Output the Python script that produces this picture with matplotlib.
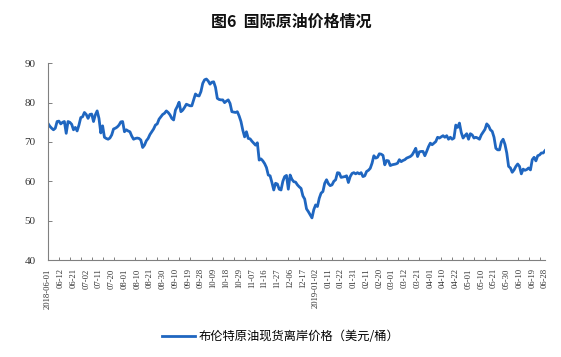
import matplotlib
matplotlib.use("Agg")
import matplotlib.pyplot as plt
import numpy as np

title = "图6  国际原油价格情况"
series_name = "布伦特原油现货离岸价格（美元/桶）"

tick_labels = ["2018-06-01", "06-12", "06-21", "07-02", "07-11", "07-20", "08-01",
               "08-10", "08-21", "08-30", "09-10", "09-19", "09-28", "10-09",
               "10-18", "10-29", "11-07", "11-16", "11-27", "12-06", "12-17",
               "2019-01-02", "01-11", "01-22", "01-31", "02-11", "02-20", "03-01",
               "03-12", "03-21", "04-01", "04-10", "04-22", "05-01", "05-10",
               "05-21", "05-30", "06-10", "06-19", "06-28"]

brent = [
    74.7, 74.0, 73.5, 73.1, 73.5, 75.2, 75.3, 74.6, 75.0, 75.2,
    72.2, 75.2, 75.0, 74.5, 73.1, 73.7, 72.8, 74.3, 76.2, 76.4,
    77.5, 77.0, 76.0, 77.0, 77.1, 75.2, 76.9, 77.9, 76.0, 72.3,
    74.1, 71.2, 70.9, 70.7, 71.0, 71.8, 73.3, 73.5, 73.8, 74.3,
    75.1, 75.2, 72.6, 73.1, 72.8, 72.6, 71.5, 70.7, 70.9, 71.0,
    70.9, 70.5, 68.6, 69.2, 70.3, 70.9, 71.9, 72.6, 73.3, 74.3,
    74.6, 75.8, 76.4, 77.0, 77.3, 77.9, 77.5, 76.9, 76.0, 75.6,
    78.1, 79.0, 80.1, 77.7, 78.1, 78.8, 79.6, 79.4, 79.2, 79.2,
    80.7, 82.2, 81.8, 81.7, 82.8, 84.9, 85.8, 86.0, 85.5, 84.7,
    85.2, 85.3, 83.9, 81.1, 80.8, 80.7, 80.7, 80.0, 80.4, 80.7,
    79.8, 77.7, 77.6, 77.5, 77.7, 76.6, 75.2, 73.0, 71.3, 72.6,
    70.9, 70.8, 70.2, 69.7, 69.2, 69.8, 65.4, 65.7, 65.2, 64.5,
    63.5, 61.6, 61.4, 59.7, 57.8, 59.5, 59.3, 58.0, 57.8, 60.0,
    61.2, 61.5, 58.0, 61.6, 60.5, 59.9, 59.8, 59.1, 58.6, 58.2,
    56.3, 55.5, 53.0, 52.3, 51.5, 50.7, 52.8, 54.0, 53.6, 55.7,
    57.0, 57.4, 59.5, 60.4, 59.4, 58.9, 59.1, 60.0, 60.4, 62.2,
    62.1, 61.0, 61.1, 61.2, 61.4, 59.7, 61.2, 62.0, 62.2, 61.9,
    62.2, 61.9, 62.2, 61.2, 61.4, 62.5, 62.8, 63.3, 64.6, 66.5,
    65.9, 66.1, 67.0, 66.9, 66.6, 64.2, 65.3, 65.2, 64.0, 64.2,
    64.3, 64.4, 64.6, 65.5, 65.0, 65.3, 65.5, 65.9, 66.1, 66.3,
    66.7, 67.5, 68.4, 66.3, 67.5, 67.6, 67.6, 66.5, 67.6, 68.8,
    69.7, 69.3, 69.7, 70.1, 71.2, 71.0, 71.3, 71.6, 71.2, 71.6,
    70.7, 71.2, 70.7, 71.0, 74.3, 73.7, 74.8, 72.4, 71.0, 71.6,
    72.1, 70.7, 72.1, 71.8, 71.0, 71.2, 71.0, 70.7, 71.8, 72.5,
    73.2, 74.6, 74.1, 73.1, 72.7, 71.2, 68.4, 68.0, 68.0, 70.0,
    70.7, 69.4, 67.2, 63.8, 63.4, 62.3, 62.9, 63.8, 64.4, 63.8,
    61.9, 63.1, 62.8, 63.0, 63.4, 62.9, 65.5, 66.1, 65.2, 66.5,
    66.7, 67.2, 67.2, 67.8,
]

label_step = 7
mark_step = 6

cjk = ["Noto Sans CJK SC", "DejaVu Sans"]
serif = ["Liberation Serif", "DejaVu Serif"]

fig = plt.figure(figsize=(5.61, 3.57), dpi=100)
ax = fig.add_axes([48/561, 1-260/357, (545-48)/561, (260-63.3)/357])

x = np.arange(len(brent))
line, = ax.plot(x, brent, color="#1F66C0", lw=2.0, solid_joinstyle="round")

ax.set_xlim(0, len(brent) - 1)
ax.set_ylim(40, 90)
ax.set_yticks(np.arange(40, 91, 10))
ax.set_yticklabels([str(v) for v in range(40, 91, 10)], family=serif, fontsize=8, color="#333333")

ax.set_xticks(np.arange(0, len(brent), label_step))
ax.set_xticklabels(tick_labels, rotation=90, family=serif, fontsize=6.2, color="#333333")
ax.set_xticks(np.arange(0, len(brent), mark_step), minor=True)
ax.tick_params(axis="x", which="major", length=0, pad=6)
ax.tick_params(axis="x", which="minor", length=2.5, direction="in", color="#808080", width=0.7)
ax.tick_params(axis="y", length=3, direction="in", color="#808080", width=0.7, pad=9)

for s in ["top", "right"]:
    ax.spines[s].set_visible(False)
for s in ["left", "bottom"]:
    ax.spines[s].set_color("#808080")
    ax.spines[s].set_linewidth(0.8)

fig.text(291/561, 1-21.5/357, title, ha="center", va="center", family=cjk,
         fontsize=11.5, fontweight="bold", color="#111111")

fig.legend([line], [series_name], loc="center", bbox_to_anchor=(281/561, 1-336.7/357),
           frameon=False, prop={"family": cjk, "size": 8.8}, handlelength=2.7,
           handletextpad=0.3, borderpad=0)

fig.savefig("out.png", dpi=100, facecolor="white")
